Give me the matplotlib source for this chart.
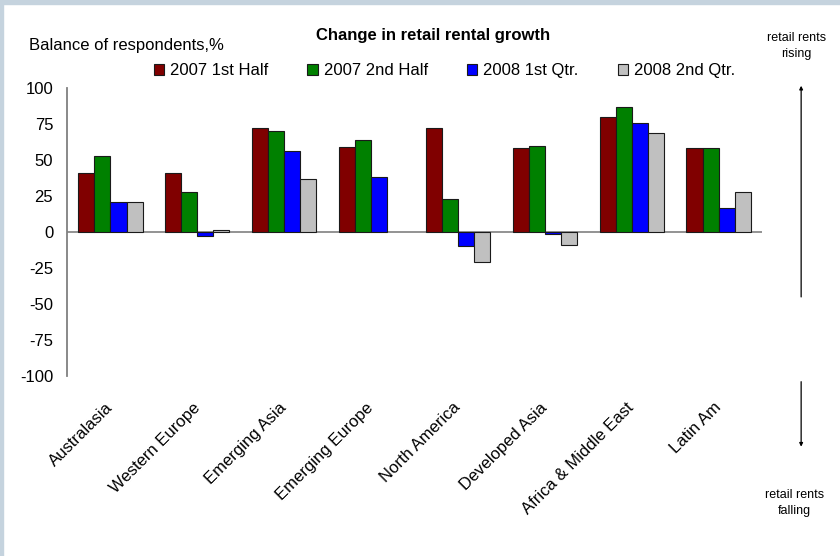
import numpy as np
import matplotlib
matplotlib.use("Agg")
import matplotlib.pyplot as plt
from matplotlib.patches import Rectangle

plt.rcParams['font.family'] = ['Liberation Sans', 'DejaVu Sans']

# Balance of respondents by region, per survey period
regions = ["Australasia", "Western Europe", "Emerging Asia", "Emerging Europe",
           "North America", "Developed Asia", "Africa & Middle East", "Latin Am"]
periods = ["2007 1st Half", "2007 2nd Half", "2008 1st Qtr.", "2008 2nd Qtr."]
h1_2007 = [41, 41, 72, 59, 72.5, 58, 80, 58]
h2_2007 = [53, 28, 70, 64, 23, 60, 87, 58]
q1_2008 = [20.5, -2.5, 56.5, 38, -10, -1.5, 76, 16.5]
q2_2008 = [20.5, 1.5, 37, np.nan, -20.5, -9, 69, 28]  # no reading for Emerging Europe
colors = ["#800000", "#008000", "#0000ff", "#c0c0c0"]
yticks = [100, 75, 50, 25, 0, -25, -50, -75, -100]

series = [h1_2007, h2_2007, q1_2008, q2_2008]

fig = plt.figure(figsize=(8.4, 5.56), dpi=100)
fig.patch.set_facecolor("white")

# thin light frame along the top and left edges
fig.patches.append(Rectangle((0, 0), 0.004, 1, transform=fig.transFigure,
                             color="#c5d3de", zorder=0))
fig.patches.append(Rectangle((0, 0.993), 1, 0.007, transform=fig.transFigure,
                             color="#c5d3de", zorder=0))

ax = fig.add_axes([0.0798, 0.3237, 0.8274, 0.518])

x = np.arange(len(regions))
width = 0.185
for i, (vals, col, lab) in enumerate(zip(series, colors, periods)):
    offs = (i - 1.5) * width
    ax.bar(x + offs, vals, width, color=col, edgecolor="#1a1a1a",
           linewidth=0.8, label=lab, zorder=3)

ax.axhline(0, color="#808080", linewidth=1.2, zorder=2)

ax.set_xlim(-0.5, len(regions) - 0.5)
ax.set_ylim(-100, 100)
ax.set_yticks(yticks)
ax.set_yticklabels([str(t) for t in yticks], fontsize=12)
ax.tick_params(axis="y", length=0, pad=10)
ax.set_xticks(x)
ax.set_xticklabels(regions, rotation=45, ha="right", va="center",
                   rotation_mode="anchor", fontsize=12)
ax.tick_params(axis="x", length=0, pad=21)

for s in ["top", "right", "bottom"]:
    ax.spines[s].set_visible(False)
ax.spines["left"].set_color("#808080")
ax.spines["left"].set_linewidth(1.3)

leg = ax.legend(ncol=4, loc="lower left", bbox_to_anchor=(0.113, 1.005),
                frameon=False, fontsize=12, handlelength=0.62,
                handleheight=0.62, handletextpad=0.35, columnspacing=2.35,
                borderaxespad=0.1)

fig.text(0.516, 0.937, "Change in retail rental growth", ha="center",
         va="center", fontsize=12, fontweight="bold")
fig.text(0.034, 0.919, "Balance of respondents,%", ha="left", va="center",
         fontsize=12)

side_font = ['Liberation Sans Narrow', 'Liberation Sans', 'DejaVu Sans']
fig.text(0.948, 0.917, "retail rents\nrising", ha="center", va="center",
         fontsize=9, family=side_font, linespacing=1.45)
fig.text(0.946, 0.095, "retail rents\nfalling", ha="center", va="center",
         fontsize=9, family=side_font, linespacing=1.45)

# direction arrows on the right
ax.annotate("", xy=(7.95, 103.5), xytext=(7.95, -47),
            arrowprops=dict(arrowstyle="-|>", color="black", lw=0.9,
                            mutation_scale=5), annotation_clip=False)
ax.annotate("", xy=(7.95, -151), xytext=(7.95, -102),
            arrowprops=dict(arrowstyle="-|>", color="black", lw=0.9,
                            mutation_scale=5), annotation_clip=False)

fig.savefig("out.png", dpi=100, facecolor="white")
